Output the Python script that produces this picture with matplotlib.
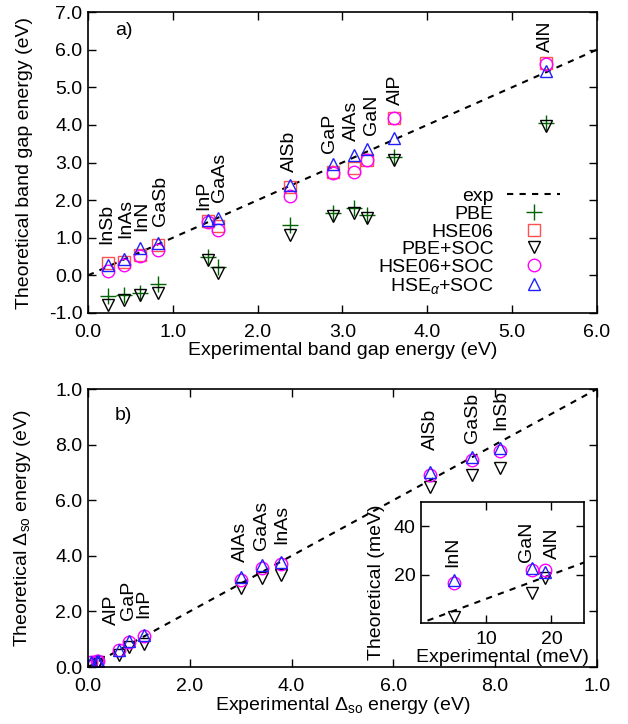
import matplotlib
matplotlib.use("Agg")
import matplotlib.pyplot as plt
import numpy as np

plt.rcParams['font.family'] = ['Liberation Sans', 'DejaVu Sans']
plt.rcParams['mathtext.fontset'] = 'custom'
plt.rcParams['mathtext.rm'] = 'Liberation Sans'
plt.rcParams['mathtext.it'] = 'Liberation Sans:italic'
plt.rcParams['font.size'] = 14
FS = 14

# ---------------- Panel a data: band gaps (eV) ----------------
materials_a = ['InSb', 'InAs', 'InN', 'GaSb', 'InP', 'GaAs', 'AlSb', 'GaP', 'AlAs', 'GaN', 'AlP', 'AlN']
exp_gap = [0.24, 0.42, 0.61, 0.82, 1.41, 1.53, 2.38, 2.89, 3.13, 3.29, 3.61, 5.40]
pbe_gap = [-0.55, -0.53, -0.47, -0.24, 0.50, 0.21, 1.34, 1.65, 1.78, 1.61, 3.14, 4.06]
hse06_gap = [0.32, 0.36, 0.54, 0.81, 1.44, 1.30, 2.34, 2.76, 2.85, 3.07, 4.18, 5.64]
pbe_soc_gap = [-0.79, -0.65, -0.52, -0.48, 0.42, 0.06, 1.07, 1.58, 1.67, 1.53, 3.07, 3.97]
hse06_soc_gap = [0.12, 0.28, 0.51, 0.67, 1.43, 1.21, 2.11, 2.73, 2.76, 3.07, 4.18, 5.62]
hsea_soc_gap = [0.28, 0.43, 0.72, 0.86, 1.47, 1.52, 2.40, 2.96, 3.20, 3.35, 3.65, 5.44]
label_x_a = [0.22, 0.44, 0.63, 0.85, 1.36, 1.55, 2.38, 2.85, 3.11, 3.34, 3.62, 5.39]
label_y_a = [0.83, 0.99, 1.18, 1.30, 1.75, 1.96, 2.75, 3.25, 3.56, 3.73, 4.53, 5.95]
ref_line_a = [0.0, 6.0]

# ---------------- Panel b data: spin-orbit splitting (eV) ----------------
materials_b = ['InN', 'GaN', 'AlN', 'AlP', 'GaP', 'InP', 'AlAs', 'GaAs', 'InAs', 'AlSb', 'GaSb', 'InSb']
exp_so = [0.005, 0.017, 0.019, 0.060, 0.080, 0.110, 0.300, 0.342, 0.379, 0.672, 0.755, 0.810]
pbe_soc_so = [0.0026, 0.0123, 0.0185, 0.043, 0.073, 0.083, 0.283, 0.319, 0.331, 0.649, 0.690, 0.715]
hse06_soc_so = [0.0165, 0.0219, 0.0219, 0.061, 0.091, 0.111, 0.313, 0.355, 0.370, 0.690, 0.745, 0.778]
hsea_soc_so = [0.0178, 0.0229, 0.0212, 0.063, 0.095, 0.115, 0.325, 0.367, 0.379, 0.700, 0.754, 0.787]
label_x_b = [None, None, None, 0.047, 0.079, 0.110, 0.300, 0.341, 0.380, 0.672, 0.756, 0.810]
label_y_b = [None, None, None, 0.151, 0.169, 0.176, 0.379, 0.420, 0.441, 0.780, 0.805, 0.853]
label_x_inset = [4.9, 16.1, 20.2]
label_y_inset = [23.0, 25.3, 26.3]
ref_line_b = [0.0, 1.0]
ref_line_inset = [1.0, 25.0]
b_ticks = [0.0, 0.2, 0.4, 0.6, 0.8, 1.0]
b_ticklabels = ['0.0', '2.0', '4.0', '6.0', '8.0', '1.0']

C_PBE = '#006400'
C_HSE = '#ff5050'
C_PBESOC = 'black'
C_HSESOC = '#ff00ff'
C_HSEA = '#2020ff'
MS = 9
MEW = 1.0

fig = plt.figure(figsize=(6.28, 7.24), dpi=100)
axa = fig.add_axes([0.1401, 0.5677, 0.8105, 0.4157])
axb = fig.add_axes([0.1401, 0.0787, 0.8105, 0.3840])
axi = fig.add_axes([0.6704, 0.1395, 0.2596, 0.1671])


def style(ax):
    ax.tick_params(direction='in', top=True, right=True, length=6, width=1, labelsize=FS)
    ax.tick_params(axis='x', pad=8)
    ax.tick_params(axis='y', pad=4)
    for s in ax.spines.values():
        s.set_linewidth(1.2)


def mk(ax, x, y, m, c, lab=None, ms=MS):
    ax.plot(x, y, linestyle='none', marker=m, ms=ms, mfc='none', mec=c, mew=MEW, label=lab)


# ---- panel a
axa.plot(ref_line_a, ref_line_a, color='black', ls=(0, (3, 3)), lw=1.5, label='exp')
mk(axa, exp_gap, pbe_gap, '+', C_PBE, 'PBE', ms=11)
mk(axa, exp_gap, hse06_gap, 's', C_HSE, 'HSE06')
mk(axa, exp_gap, pbe_soc_gap, 'v', C_PBESOC, 'PBE+SOC')
mk(axa, exp_gap, hse06_soc_gap, 'o', C_HSESOC, 'HSE06+SOC')
mk(axa, exp_gap, hsea_soc_gap, '^', C_HSEA, 'HSE$_\\alpha$+SOC')
for n, lx, ly in zip(materials_a, label_x_a, label_y_a):
    axa.text(lx, ly, n, rotation=90, ha='center', va='bottom', fontsize=FS)
axa.set_xlim(0, 6)
axa.set_ylim(-1, 7)
axa.set_xticks(np.arange(0, 6.01, 1.0))
axa.set_yticks(np.arange(-1, 7.01, 1.0))
axa.xaxis.set_major_formatter(matplotlib.ticker.FormatStrFormatter('%.1f'))
axa.yaxis.set_major_formatter(matplotlib.ticker.FormatStrFormatter('%.1f'))
style(axa)
axa.set_xlabel('Experimental band gap energy (eV)', fontsize=FS, labelpad=1)
axa.set_ylabel('Theoretical band gap energy (eV)', fontsize=FS)
axa.yaxis.set_label_coords(-0.108, 0.5)
axa.text(0.053, 0.925, 'a)', transform=axa.transAxes, fontsize=FS)
axa.legend(loc='lower right', bbox_to_anchor=(0.946, 0.025), markerfirst=False, frameon=False,
           borderpad=0, handlelength=2.7, handletextpad=0.7, labelspacing=0.0, fontsize=FS,
           numpoints=1)

# ---- panel b
axb.plot(ref_line_b, ref_line_b, color='black', ls=(0, (3, 3)), lw=1.5)
mk(axb, exp_so, pbe_soc_so, 'v', C_PBESOC)
mk(axb, exp_so, hse06_soc_so, 'o', C_HSESOC)
mk(axb, exp_so, hsea_soc_so, '^', C_HSEA)
for n, lx, ly in zip(materials_b, label_x_b, label_y_b):
    if lx is not None:
        axb.text(lx, ly, n, rotation=90, ha='center', va='bottom', fontsize=FS)
axb.set_xlim(0, 1)
axb.set_ylim(0, 1)
axb.set_xticks(b_ticks)
axb.set_xticklabels(b_ticklabels)
axb.set_yticks(b_ticks)
axb.set_yticklabels(b_ticklabels)
style(axb)
axb.set_xlabel('Experimental $\\Delta_{\\mathrm{so}}$ energy (eV)', fontsize=FS, labelpad=0)
axb.set_ylabel('Theoretical $\\Delta_{\\mathrm{so}}$ energy (eV)', fontsize=FS)
axb.yaxis.set_label_coords(-0.108, 0.5)
axb.text(0.053, 0.89, 'b)', transform=axb.transAxes, fontsize=FS)

# ---- inset (meV)
mev = 1000.0
axi.plot(ref_line_inset, ref_line_inset, color='black', ls=(0, (3, 3)), lw=1.5)
mk(axi, np.array(exp_so[:3]) * mev, np.array(pbe_soc_so[:3]) * mev, 'v', C_PBESOC)
mk(axi, np.array(exp_so[:3]) * mev, np.array(hse06_soc_so[:3]) * mev, 'o', C_HSESOC)
mk(axi, np.array(exp_so[:3]) * mev, np.array(hsea_soc_so[:3]) * mev, '^', C_HSEA)
for n, lx, ly in zip(materials_b[:3], label_x_inset, label_y_inset):
    axi.text(lx, ly, n, rotation=90, ha='center', va='bottom', fontsize=FS)
axi.set_xlim(0, 25)
axi.set_ylim(0, 50)
axi.set_xticks([10, 20])
axi.set_yticks([20, 40])
style(axi)
axi.tick_params(axis='x', pad=6)
axi.set_xlabel('Experimental (meV)', fontsize=FS)
axi.xaxis.set_label_coords(0.5, -0.215)
axi.set_ylabel('Theoretical (meV)', fontsize=FS)
axi.yaxis.set_label_coords(-0.22, 0.34)

fig.savefig('out.png', dpi=100)
